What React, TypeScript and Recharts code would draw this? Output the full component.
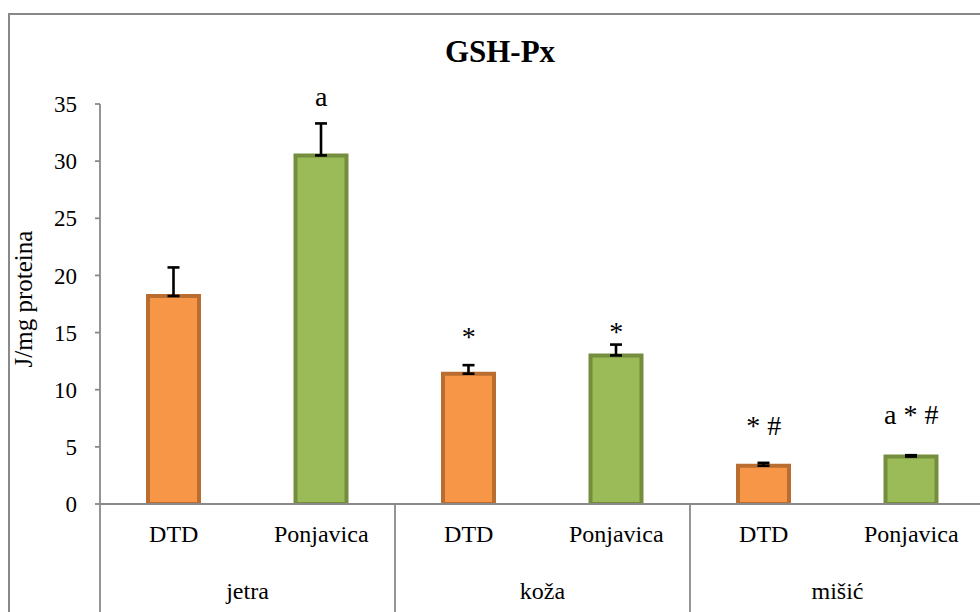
import { ComposedChart, Bar, Line, XAxis, YAxis, Cell, ErrorBar, LabelList } from 'recharts';

const groups = ['jetra', 'jetra', 'koža', 'koža', 'mišić', 'mišić'];
const samples = ['DTD', 'Ponjavica', 'DTD', 'Ponjavica', 'DTD', 'Ponjavica'];
const gshPx = [18.2, 30.5, 11.4, 13.0, 3.35, 4.15];
const sdUp = [2.5, 2.8, 0.75, 0.95, 0.25, 0.12];
const notes = ['', 'a', '*', '*', '* #', 'a * #'];
const noteAt = [null, 34.8, 13.8, 14.3, 6.05, 7.0];
const yTicks = [0, 5, 10, 15, 20, 25, 30, 35];

const FILL: Record<string, string> = { DTD: '#F79646', Ponjavica: '#9BBB59' };
const EDGE: Record<string, string> = { DTD: '#B96D30', Ponjavica: '#748E3E' };
const AXIS = '#898989';
const FONT = 'Liberation Serif';

const data = samples.map((s, i) => ({
  sample: s,
  group: groups[i],
  value: gshPx[i],
  err: [0, sdUp[i]],
  note: notes[i],
  noteY: noteAt[i],
}));

function CategoryTick(props: any) {
  const { x, y, payload, index, width } = props;
  const half = payload.offset ?? width / samples.length / 2;
  const first = index % 2 === 0;
  return (
    <g>
      <text x={x} y={y + 38} textAnchor="middle" fontSize={24} style={{ fontFamily: FONT }} fill="#000">
        {payload.value}
      </text>
      {first && (
        <text x={x + half} y={y + 95} textAnchor="middle" fontSize={24} style={{ fontFamily: FONT }} fill="#000">
          {groups[index]}
        </text>
      )}
      {index === 0 && <line x1={x - half} y1={y} x2={x - half} y2={y + 200} stroke={AXIS} strokeWidth={1.8} />}
      {!first && <line x1={x + half} y1={y} x2={x + half} y2={y + 200} stroke={AXIS} strokeWidth={1.8} />}
    </g>
  );
}

function YTitle(props: any) {
  const { viewBox } = props;
  const cy = viewBox.y + viewBox.height / 2 - 5;
  return (
    <text x={32} y={cy} transform={`rotate(-90 32 ${cy})`} textAnchor="middle" fontSize={25} style={{ fontFamily: FONT }} fill="#000">
      J/mg proteina
    </text>
  );
}

export default function App() {
  return (
    <div style={{ position: 'fixed', left: 0, top: 0, width: 980, height: 612, overflow: 'hidden', background: '#fff', fontFamily: FONT }}>
      <div
        style={{
          position: 'absolute',
          left: 8,
          top: 13,
          width: 1100,
          height: 800,
          border: `2px solid ${AXIS}`,
          boxSizing: 'border-box',
        }}
      />
      <div
        style={{
          position: 'absolute',
          left: 0,
          top: 34,
          width: 1000,
          textAlign: 'center',
          fontFamily: FONT,
          fontWeight: 'bold',
          fontSize: 31,
          lineHeight: '36px',
        }}
      >
        GSH-Px
      </div>
      <div style={{ position: 'absolute', left: 0, top: 0 }}>
        <ComposedChart width={1000} height={700} data={data} margin={{ top: 104, right: 15, bottom: 0, left: 0 }}>
          <YAxis
            domain={[0, 35]}
            ticks={yTicks}
            width={100}
            allowDataOverflow
            axisLine={{ stroke: AXIS, strokeWidth: 1.8 }}
            tickLine={{ stroke: AXIS, strokeWidth: 1.8 }}
            tickSize={5}
            tickMargin={18}
            tick={{ fill: '#000', fontSize: 23, style: { fontFamily: FONT } }}
            label={<YTitle />}
          />
          <XAxis
            dataKey="sample"
            height={196}
            axisLine={{ stroke: AXIS, strokeWidth: 1.8 }}
            tickLine={false}
            tickSize={0}
            tickMargin={0}
            interval={0}
            tick={<CategoryTick />}
          />
          <Bar dataKey="value" barSize={51} strokeWidth={4} isAnimationActive={false}>
            {data.map((d, i) => (
              <Cell key={i} fill={FILL[d.sample]} stroke={EDGE[d.sample]} />
            ))}
            <ErrorBar dataKey="err" direction="y" width={6} stroke="#000" strokeWidth={2.6} />
          </Bar>
          <Line dataKey="noteY" stroke="none" dot={false} activeDot={false} isAnimationActive={false} connectNulls={false}>
            <LabelList dataKey="note" position="top" offset={0} fill="#000" fontSize={28} style={{ fontFamily: FONT }} />
          </Line>
        </ComposedChart>
      </div>
    </div>
  );
}
